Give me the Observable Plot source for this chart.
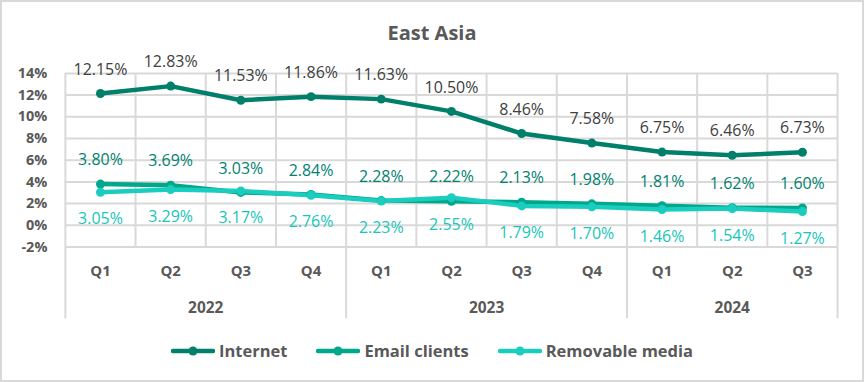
<!DOCTYPE html>
<html>
<head>
<meta charset="utf-8">
<script src="https://cdn.jsdelivr.net/npm/d3@7"></script>
<script src="https://cdn.jsdelivr.net/npm/@observablehq/plot@0.6"></script>
<style>
  html, body { margin: 0; padding: 0; background: #fff; }
  #frame { position: relative; width: 864px; height: 382px; box-sizing: border-box; border: 2px solid #d9d9d9; overflow: hidden; font-family: "Open Sans", Lato, sans-serif; }
  #title { position: absolute; left: 0; right: 0; top: 17px; text-align: center; font-size: 20px; font-weight: bold; color: #595959; }
  #chart { position: absolute; left: -2px; top: 36px; }
  #legend { position: absolute; left: 0; right: 0; top: 337px; display: flex; justify-content: center; gap: 29px; font-size: 16.5px; font-weight: bold; color: #595959; }
  .item { display: flex; align-items: center; gap: 4px; }
</style>
</head>
<body>
<div id="frame">
  <div id="title">East Asia</div>
  <div id="chart"></div>
  <div id="legend"></div>
</div>
<script>
const quarters = ["Q1","Q2","Q3","Q4","Q1","Q2","Q3","Q4","Q1","Q2","Q3"];
const years = ["2022","2022","2022","2022","2023","2023","2023","2023","2024","2024","2024"];
const internet = [12.15, 12.83, 11.53, 11.86, 11.63, 10.50, 8.46, 7.58, 6.75, 6.46, 6.73];
const emailClients = [3.80, 3.69, 3.03, 2.84, 2.28, 2.22, 2.13, 1.98, 1.81, 1.62, 1.60];
const removableMedia = [3.05, 3.29, 3.17, 2.76, 2.23, 2.55, 1.79, 1.70, 1.46, 1.54, 1.27];
const yTicks = [-2, 0, 2, 4, 6, 8, 10, 12, 14];

const seriesNames = ["Internet", "Email clients", "Removable media"];
const seriesColors = ["#00806a", "#00a88b", "#1acdbf"];
const labelColors = ["#404040", "#00826f", "#17c6b9"];
const seriesValues = [internet, emailClients, removableMedia];

const rows = [];
seriesValues.forEach((vals, s) => vals.forEach((v, i) => rows.push({series: seriesNames[s], s, i, x: i + 0.5, v})));

const groups = [];
years.forEach((y, i) => {
  const g = groups.find(d => d.year === y);
  if (g) g.end = i + 1; else groups.push({year: y, start: i, end: i + 1});
});
const yearBounds = [0, ...groups.map(g => g.end)];
const bandBounds = d3.range(quarters.length + 1);

const W = 864, H = 292;
const chart = Plot.plot({
  width: W, height: H,
  marginLeft: 65, marginRight: 25, marginTop: 35, marginBottom: 83,
  style: {fontFamily: "'Open Sans', Lato, sans-serif", overflow: "visible", background: "transparent"},
  x: {type: "linear", domain: [0, quarters.length], axis: null},
  y: {domain: [-2, 14], axis: null},
  marks: [
    Plot.ruleY(yTicks, {stroke: "#d9d9d9", strokeWidth: 2}),
    Plot.ruleX(bandBounds, {stroke: "#d9d9d9", strokeWidth: 2}),
    Plot.ruleX(yearBounds, {stroke: "#d9d9d9", strokeWidth: 2, insetTop: 174, insetBottom: -72}),
    Plot.text(yTicks, {x: 0, y: d => d, text: d => d + "%", textAnchor: "end", dx: -18, fontSize: 14.5, fontWeight: "bold", fill: "#595959"}),
    Plot.text(quarters, {x: (d, i) => i + 0.5, y: -2, text: d => d, dy: 24, fontSize: 15, fontWeight: "bold", fill: "#595959"}),
    Plot.text(groups, {x: d => (d.start + d.end) / 2, y: -2, text: d => d.year, dy: 61, fontSize: 15.5, fontWeight: "bold", fill: "#595959"}),
    ...seriesNames.map((name, s) => Plot.line(rows.filter(r => r.s === s), {x: "x", y: "v", stroke: seriesColors[s], strokeWidth: 4.5, strokeLinejoin: "round", strokeLinecap: "round"})),
    ...seriesNames.map((name, s) => Plot.dot(rows.filter(r => r.s === s), {x: "x", y: "v", r: 4.5, fill: seriesColors[s], stroke: "none"})),
    ...seriesNames.map((name, s) => Plot.text(rows.filter(r => r.s === s), {x: "x", y: "v", text: d => d.v.toFixed(2) + "%", dy: s === 2 ? 27 : -24, fontSize: 16, fill: labelColors[s]}))
  ]
});
document.getElementById("chart").appendChild(chart);

const legend = document.getElementById("legend");
seriesNames.forEach((name, s) => {
  const item = document.createElement("div");
  item.className = "item";
  item.innerHTML = `<svg width="44" height="12"><line x1="2" y1="6" x2="42" y2="6" stroke="${seriesColors[s]}" stroke-width="4.5" stroke-linecap="round"/><circle cx="22" cy="6" r="4.5" fill="${seriesColors[s]}"/></svg><span>${name}</span>`;
  legend.appendChild(item);
});
</script>
</body>
</html>
